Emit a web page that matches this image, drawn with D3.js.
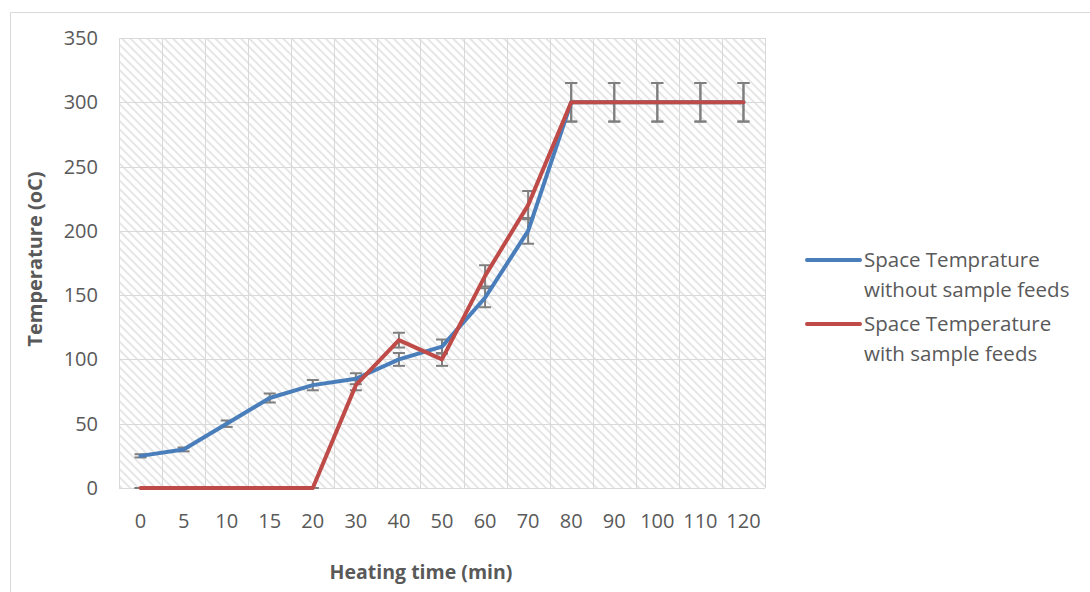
<!DOCTYPE html>
<html>
<head>
<meta charset="utf-8">
<script src="https://cdn.jsdelivr.net/npm/d3@7"></script>
<style>
  body { margin: 0; background: #fff; }
  text { font-family: "Open Sans", "Noto Sans", sans-serif; fill: #595959; }
</style>
</head>
<body>
<script>
let width = 1090
let height = 592

// data
let times = ["0", "5", "10", "15", "20", "30", "40", "50", "60", "70", "80", "90", "100", "110", "120"]
let withoutFeeds = [25, 30, 50, 70, 80, 85, 100, 110, 148, 200, 300, 300, 300, 300, 300]
let withFeeds = [0, 0, 0, 0, 0, 80, 115, 100, 165, 220, 300, 300, 300, 300, 300]
let yTicks = [0, 50, 100, 150, 200, 250, 300, 350]
let errPct = 0.05

let margin = {left: 119, right: 325, top: 38, bottom: 104}

let svg = d3.select("body")
    .append("svg")
    .attr("width", width)
    .attr("height", height)

let defs = svg.append("defs")
let pat = defs.append("pattern")
    .attr("id", "hatch")
    .attr("patternUnits", "userSpaceOnUse")
    .attr("width", 6)
    .attr("height", 6)
    .attr("patternTransform", "rotate(45)")
pat.append("rect").attr("width", 6).attr("height", 6).attr("fill", "#fff")
pat.append("line")
    .attr("x1", 0).attr("y1", 0).attr("x2", 6).attr("y2", 0)
    .attr("stroke", "#e6e6e6")
    .attr("stroke-width", 4)

// outer chart frame
svg.append("path")
    .attr("d", "M10.5,592 L10.5,12.5 L1090,12.5")
    .attr("fill", "none")
    .attr("stroke", "#d9d9d9")

let x = d3.scaleBand()
    .domain(times)
    .range([margin.left, width - margin.right])

let y = d3.scaleLinear()
    .domain([0, 350])
    .range([height - margin.bottom, margin.top])

let g = svg.append("g")

g.append("rect")
    .attr("x", margin.left)
    .attr("y", margin.top)
    .attr("width", x.range()[1] - margin.left)
    .attr("height", y(0) - margin.top)
    .attr("fill", "url(#hatch)")

// horizontal grid
g.selectAll(".hgrid")
    .data(yTicks)
    .enter()
    .append("line")
    .attr("x1", margin.left)
    .attr("x2", x.range()[1])
    .attr("y1", d => Math.round(y(d)) + 0.5)
    .attr("y2", d => Math.round(y(d)) + 0.5)
    .attr("stroke", "#d9d9d9")

// vertical grid at category boundaries
let bounds = times.map(t => x(t)).concat([x.range()[1]])
g.selectAll(".vgrid")
    .data(bounds)
    .enter()
    .append("line")
    .attr("x1", d => Math.round(d) + 0.5)
    .attr("x2", d => Math.round(d) + 0.5)
    .attr("y1", margin.top)
    .attr("y2", y(0))
    .attr("stroke", "#d9d9d9")

// y tick labels
g.selectAll(".ylab")
    .data(yTicks)
    .enter()
    .append("text")
    .attr("x", margin.left - 21)
    .attr("y", d => y(d))
    .attr("dy", "0.35em")
    .attr("text-anchor", "end")
    .attr("font-size", 20)
    .text(d => d)

// x tick labels
g.selectAll(".xlab")
    .data(times)
    .enter()
    .append("text")
    .attr("x", d => x(d) + x.bandwidth() / 2)
    .attr("y", y(0) + 40)
    .attr("text-anchor", "middle")
    .attr("font-size", 20)
    .text(d => d)

let cx = d => x(d) + x.bandwidth() / 2

let series = [
    {name: ["Space Temprature", "without sample feeds"], values: withoutFeeds, color: "#4a7ebb"},
    {name: ["Space Temperature", "with sample feeds"], values: withFeeds, color: "#be4b48"}
]

let line = d3.line()
    .x((d, i) => cx(times[i]))
    .y(d => y(d))

series.forEach(s => {
    let eb = g.append("g")
        .attr("stroke", "#7f7f7f")
        .attr("stroke-width", 2)
    s.values.forEach((v, i) => {
        let px = cx(times[i])
        let lo = y(v * (1 - errPct)), hi = y(v * (1 + errPct))
        eb.append("line").attr("x1", px).attr("x2", px).attr("y1", lo).attr("y2", hi)
        eb.append("line").attr("x1", px - 6).attr("x2", px + 6).attr("y1", lo).attr("y2", lo)
        eb.append("line").attr("x1", px - 6).attr("x2", px + 6).attr("y1", hi).attr("y2", hi)
    })
})

series.forEach(s => {
    g.append("path")
        .datum(s.values)
        .attr("fill", "none")
        .attr("stroke", s.color)
        .attr("stroke-width", 4)
        .attr("stroke-linejoin", "round")
        .attr("stroke-linecap", "round")
        .attr("d", line)
})

// axis titles
svg.append("text")
    .attr("x", 421)
    .attr("y", 579)
    .attr("text-anchor", "middle")
    .attr("font-size", 19.5)
    .attr("font-weight", "bold")
    .text("Heating time (min)")

svg.append("text")
    .attr("transform", "translate(42,259) rotate(-90)")
    .attr("text-anchor", "middle")
    .attr("font-size", 20)
    .attr("font-weight", "bold")
    .text("Temperature (oC)")

// legend
let legend = svg.append("g")
series.forEach((s, i) => {
    let ly = 260 + i * 64
    legend.append("line")
        .attr("x1", 807).attr("x2", 860)
        .attr("y1", ly).attr("y2", ly)
        .attr("stroke", s.color)
        .attr("stroke-width", 4)
        .attr("stroke-linecap", "round")
    s.name.forEach((t, j) => {
        legend.append("text")
            .attr("x", 864)
            .attr("y", ly + j * 30)
            .attr("dy", "0.35em")
            .attr("font-size", 20.5)
            .text(t)
    })
})
</script>
</body>
</html>
